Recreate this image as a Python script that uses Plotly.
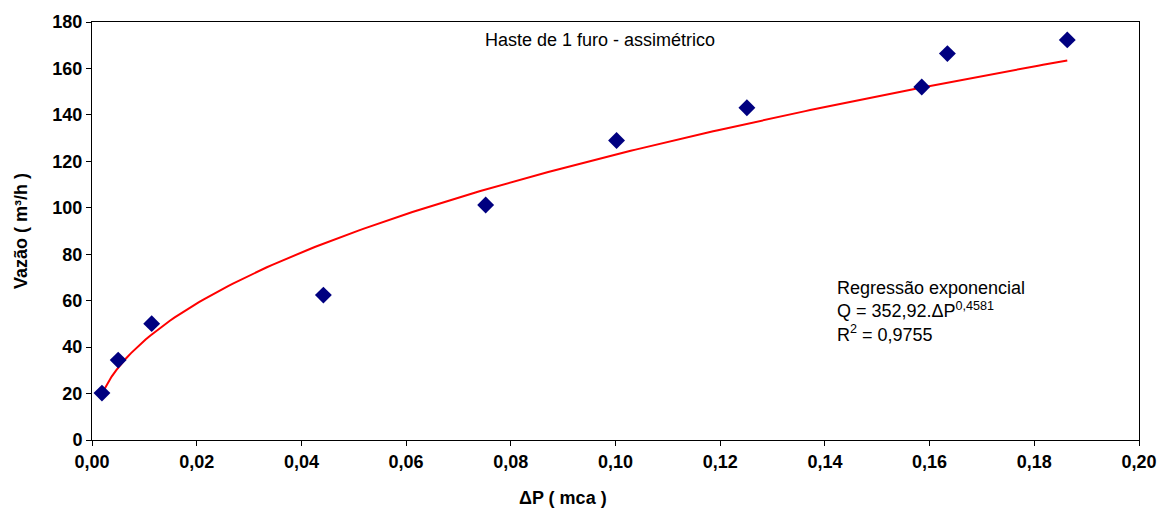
import numpy as np
import plotly.graph_objects as go

# Data
delta_p = [0.0019, 0.0050, 0.0114, 0.0442, 0.0752, 0.1002, 0.1251, 0.1585, 0.1634, 0.1863]
vazao = [20.2, 34.4, 50.1, 62.4, 101.2, 129.0, 143.1, 152.0, 166.4, 172.3]

# Regression coefficients shown on the chart
coef_a = 352.92
coef_b = 0.4581

x_fit = np.linspace(min(delta_p), max(delta_p), 200)
y_fit = coef_a * x_fit ** coef_b

font_family = "Liberation Sans, Arial, sans-serif"

fig = go.Figure()
fig.add_trace(go.Scatter(x=x_fit, y=y_fit, mode="lines",
                         line=dict(color="#ff0000", width=2), hoverinfo="skip"))
fig.add_trace(go.Scatter(x=delta_p, y=vazao, mode="markers",
                         marker=dict(symbol="diamond", size=13, color="#000080")))

fig.update_layout(
    width=1169, height=514,
    margin=dict(l=92, r=27, t=16, b=74),
    paper_bgcolor="white", plot_bgcolor="white",
    showlegend=False,
    separators=",.",
    font=dict(family=font_family, color="black", size=18),
    xaxis=dict(range=[0, 0.20], dtick=0.02, tickformat=".2f",
               showgrid=False, zeroline=False,
               showline=True, linecolor="black", linewidth=1, mirror=True,
               ticks="outside", ticklen=5, tickcolor="black",
               tickfont=dict(size=18, family=font_family, weight="bold")),
    yaxis=dict(range=[0, 180], dtick=20,
               showgrid=False, zeroline=False,
               showline=True, linecolor="black", linewidth=1, mirror=True,
               ticks="outside", ticklen=5, tickcolor="black",
               tickfont=dict(size=18, family=font_family, weight="bold"),
               title=dict(text="Vazão ( m³/h )", standoff=20,
                          font=dict(size=18, family=font_family, weight="bold"))),
    annotations=[
        dict(text="<b>ΔP ( mca )</b>", xref="paper", yref="paper",
             x=(564 - 92) / 1050, y=-(499 - 440) / 424, xanchor="center", yanchor="middle",
             showarrow=False, font=dict(size=18)),
        dict(text="Haste de 1 furo - assimétrico", xref="paper", yref="paper",
             x=(601 - 92) / 1050, y=(440 - 34) / 424, xanchor="center", yanchor="middle",
             showarrow=False, font=dict(size=18)),
        dict(text="Regressão exponencial<br>Q = 352,92.ΔP<sup>0,4581</sup><br>R<sup>2</sup> = 0,9755",
             xref="paper", yref="paper",
             x=(837 - 92) / 1050, y=(440 - 274) / 424, xanchor="left", yanchor="top",
             align="left", showarrow=False, font=dict(size=18)),
    ],
)

fig.write_html("out.html")
